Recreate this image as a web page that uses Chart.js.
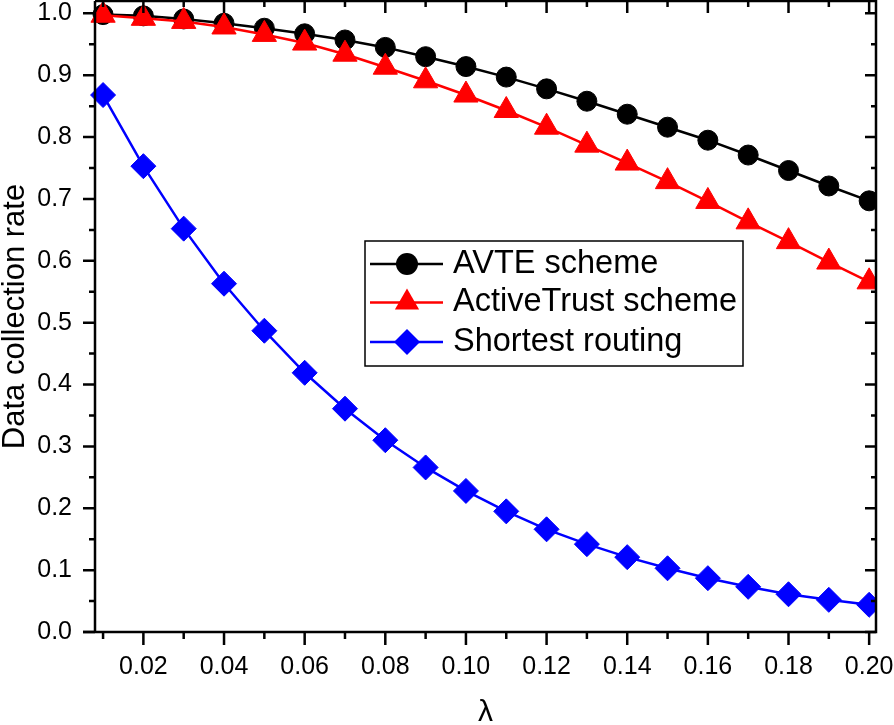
<!DOCTYPE html>
<html><head><meta charset="utf-8">
<script src="https://cdn.jsdelivr.net/npm/chart.js@4.4.0/dist/chart.umd.min.js"></script>
<style>html,body{margin:0;padding:0;background:#fff;overflow:hidden}#wrap{width:894px;height:725px;position:relative}</style>
</head><body><div id="wrap"><canvas id="c" width="894" height="725"></canvas></div>
<script>
const lambdaValues = [0.01,0.02,0.03,0.04,0.05,0.06,0.07,0.08,0.09,0.10,0.11,0.12,0.13,0.14,0.15,0.16,0.17,0.18,0.19,0.20];
const avteScheme = [0.998,0.996,0.991,0.984,0.976,0.967,0.957,0.945,0.930,0.914,0.897,0.878,0.858,0.837,0.816,0.795,0.771,0.746,0.721,0.697];
const activeTrustScheme = [0.997,0.992,0.987,0.978,0.966,0.952,0.934,0.913,0.891,0.868,0.843,0.816,0.787,0.758,0.728,0.696,0.663,0.631,0.598,0.566];
const shortestRouting = [0.868,0.753,0.652,0.563,0.487,0.419,0.361,0.310,0.266,0.228,0.195,0.166,0.142,0.121,0.103,0.087,0.073,0.061,0.052,0.044];
const seriesLabels = ['AVTE scheme','ActiveTrust scheme','Shortest routing'];
const xTickValues = [0.02,0.04,0.06,0.08,0.10,0.12,0.14,0.16,0.18,0.20];
const xMinorTickValues = [0.01,0.03,0.05,0.07,0.09,0.11,0.13,0.15,0.17,0.19];
const yTickValues = [0.0,0.1,0.2,0.3,0.4,0.5,0.6,0.7,0.8,0.9,1.0];
const yMinorTickValues = [0.05,0.15,0.25,0.35,0.45,0.55,0.65,0.75,0.85,0.95];
const xTitle = 'λ';
const yTitle = 'Data collection rate';

const FONT = "'Liberation Sans', Arial, sans-serif";
const colors = ['#000000','#ff0000','#0000ff'];
const styles = ['circle','triangle','rectRot'];
const radii = [10,14,12.5];

function mk(arr){ return lambdaValues.map((x,i)=>({x:x,y:arr[i]})); }
const seriesData = [avteScheme, activeTrustScheme, shortestRouting];

function drawMarker(ctx, style, x, y, r, color){
  ctx.save(); ctx.fillStyle=color; ctx.beginPath();
  if(style==='circle'){ ctx.arc(x,y,r,0,Math.PI*2); }
  else if(style==='triangle'){
    for(let k=0;k<3;k++){ const a=k*2*Math.PI/3; const px=x+Math.sin(a)*r, py=y-Math.cos(a)*r; k?ctx.lineTo(px,py):ctx.moveTo(px,py);} ctx.closePath();
  } else { ctx.moveTo(x-r,y); ctx.lineTo(x,y-r); ctx.lineTo(x+r,y); ctx.lineTo(x,y+r); ctx.closePath(); }
  ctx.fill(); ctx.restore();
}

function zeroPad(s){ s.paddingTop=0; s.paddingBottom=0; s.paddingLeft=0; s.paddingRight=0; }

const framePlugin = {
  id:'frame',
  afterDatasetsDraw(chart){
    const ctx=chart.ctx, a=chart.chartArea, xs=chart.scales.x, ys=chart.scales.y;
    ctx.save(); ctx.strokeStyle='#000'; ctx.lineCap='butt';
    ctx.lineWidth=2.5;
    ctx.beginPath();
    ctx.moveTo(a.left,a.top); ctx.lineTo(a.right,a.top); ctx.lineTo(a.right,a.bottom); ctx.lineTo(a.left-12,a.bottom);
    ctx.moveTo(a.left,a.top); ctx.lineTo(a.left,a.bottom);
    ctx.stroke();
    ctx.beginPath();
    xTickValues.forEach(v=>{const p=xs.getPixelForValue(v); ctx.moveTo(p,a.bottom); ctx.lineTo(p,a.bottom+13); ctx.moveTo(p,a.top); ctx.lineTo(p,a.top+12);});
    xMinorTickValues.forEach(v=>{const p=xs.getPixelForValue(v); ctx.moveTo(p,a.bottom); ctx.lineTo(p,a.bottom+7); ctx.moveTo(p,a.top); ctx.lineTo(p,a.top+6);});
    yTickValues.forEach(v=>{const p=ys.getPixelForValue(v); ctx.moveTo(a.left,p); ctx.lineTo(a.left-12,p); ctx.moveTo(a.right,p); ctx.lineTo(a.right-11,p);});
    yMinorTickValues.forEach(v=>{const p=ys.getPixelForValue(v); ctx.moveTo(a.left,p); ctx.lineTo(a.left-6,p); ctx.moveTo(a.right,p); ctx.lineTo(a.right-5,p);});
    ctx.stroke();
    ctx.restore();
  },
  afterDraw(chart){
    const ctx=chart.ctx;
    const bx=365, by=241, bw=378, bh=125;
    ctx.save();
    ctx.fillStyle='#fff'; ctx.fillRect(bx,by,bw,bh);
    ctx.strokeStyle='#000'; ctx.lineWidth=1.5; ctx.strokeRect(bx,by,bw,bh);
    const rows=[264,302.5,342];
    chart.data.datasets.forEach((ds,i)=>{
      const y=rows[i];
      ctx.strokeStyle=ds.borderColor; ctx.lineWidth=2.5;
      ctx.beginPath(); ctx.moveTo(370,y); ctx.lineTo(443,y); ctx.stroke();
      drawMarker(ctx, styles[i], 407, y, [11,14,13][i], ds.borderColor);
      ctx.fillStyle='#000'; ctx.font='32.5px '+FONT; ctx.textBaseline='middle'; ctx.textAlign='left';
      ctx.fillText(ds.label, 453, y);
    });
    ctx.restore();
  }
};

new Chart(document.getElementById('c'), {
  type:'line',
  data:{ datasets: seriesData.map((arr,i)=>({
    label: seriesLabels[i], data: mk(arr), borderColor: colors[i], backgroundColor: colors[i],
    borderWidth: 2.5, pointStyle: styles[i], pointRadius: radii[i], pointHoverRadius: radii[i],
    pointBackgroundColor: colors[i], pointBorderColor: colors[i], pointBorderWidth: 1,
    tension: 0, fill:false, order: 3-i, clip:{left:20,top:5,right:0,bottom:5}
  }))},
  plugins:[framePlugin],
  options:{
    responsive:false, animation:false, devicePixelRatio:1,
    layout:{autoPadding:false, padding:{left:0,right:18,top:1,bottom:0}},
    plugins:{legend:{display:false}, tooltip:{enabled:false}},
    scales:{
      x:{ type:'linear', min:0.008, max:0.2017, offset:false,
        afterBuildTicks(s){ s.ticks = xTickValues.map(v=>({value:v})); },
        afterFit(s){ s.height = 93; zeroPad(s); },
        grid:{display:false, drawTicks:false}, border:{display:false},
        ticks:{ autoSkip:false, maxRotation:0, padding:20, color:'#000', font:{family:FONT,size:25},
          callback:(v)=>Number(v).toFixed(2) },
        title:{display:true, text:xTitle, color:'#000', font:{family:FONT,size:30,lineHeight:1}, padding:{top:0,bottom:-3}}
      },
      y:{ type:'linear', min:0, max:1.02,
        afterBuildTicks(s){ s.ticks = yTickValues.map(v=>({value:v})); },
        afterFit(s){ s.width = 95; zeroPad(s); },
        grid:{display:false, drawTicks:false}, border:{display:false},
        ticks:{ autoSkip:false, padding:23, color:'#000', font:{family:FONT,size:25},
          callback:(v)=>Number(v).toFixed(1) },
        title:{display:true, text:yTitle, color:'#000', font:{family:FONT,size:31,lineHeight:1}, padding:{top:0,bottom:0}}
      }
    }
  }
});
</script></body></html>
